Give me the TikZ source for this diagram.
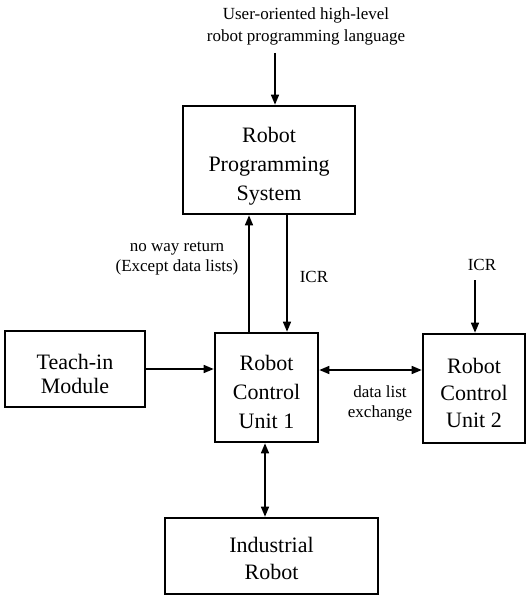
\documentclass[tikz,border=0pt]{standalone}
\usepackage{fontspec}
\setmainfont{Liberation Serif}
\usetikzlibrary{arrows.meta}
% invisible strut that makes a first text line taller
\newcommand{\lift}[1]{\rule{0pt}{#1}}
\begin{document}
\begin{tikzpicture}[x=1pt,y=-1pt,
  box/.style={draw, line width=2.6pt, align=center, inner sep=0pt,
              font=\fontsize{22}{29}\selectfont},
  lbl/.style={align=center, inner sep=0pt, font=\fontsize{17}{20}\selectfont},
  tip/.tip={Triangle[length=10pt,width=8pt]},
  arr/.style={line width=1.5pt, -tip},
  darr/.style={line width=1.5pt, tip-tip}]
\useasboundingbox (0,0) rectangle (527,599);

% blocks
\node[box, minimum width=172pt, minimum height=108pt] (rps) at (269,160)
  {\lift{27pt}Robot\\Programming\\System};
\node[box, minimum width=103pt, minimum height=109pt] (rcu1) at (266.5,387.5)
  {\lift{25pt}Robot\\Control\\Unit 1};
\node[box, font=\fontsize{22}{24}\selectfont,
      minimum width=140pt, minimum height=76pt] (teach) at (75,369)
  {\lift{25pt}Teach-in\\Module};
\node[box, font=\fontsize{22}{27}\selectfont,
      minimum width=102pt, minimum height=109pt] (rcu2) at (474,388.5)
  {\lift{25pt}Robot\\Control\\Unit 2};
\node[box, font=\fontsize{22}{27}\selectfont,
      minimum width=213pt, minimum height=76pt] (ind) at (271.5,556)
  {\lift{20pt}Industrial\\Robot};

% labels
\node[lbl, font=\fontsize{17}{22}\selectfont] (lang) at (306,26)
  {User-oriented high-level\\robot programming language};
\node[lbl] (noret) at (177,258.5) {no way return\\(Except data lists)};
\node[lbl] (icra)  at (314,277) {ICR};
\node[lbl] (icrb)  at (482,265) {ICR};
\node[lbl] (dle)   at (380,403) {data list\\exchange};

% connectors
\coordinate (src)    at (275,53);
\coordinate (upx)    at (249,0);
\coordinate (dnx)    at (287,0);
\coordinate (exy)    at (0,370);
\coordinate (icrsrc) at (475,280);
\coordinate (robx)   at (265,0);

\draw[arr]  (src) -- (src |- rps.north);
\draw[arr]  (rcu1.north -| upx) -- (rps.south -| upx);
\draw[arr]  (rps.south -| dnx) -- (rcu1.north -| dnx);
\draw[arr]  (teach.east) -- (teach.east -| rcu1.west);
\draw[darr] (rcu1.east |- exy) -- (rcu2.west |- exy);
\draw[arr]  (icrsrc) -- (icrsrc |- rcu2.north);
\draw[darr] (rcu1.south -| robx) -- (ind.north -| robx);
\end{tikzpicture}
\end{document}
